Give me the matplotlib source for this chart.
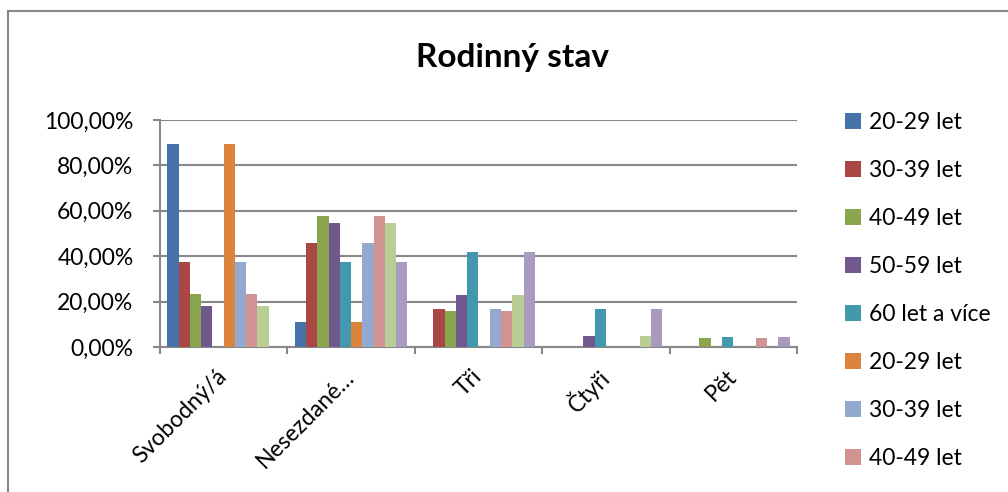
import matplotlib.pyplot as plt
import numpy as np
from matplotlib.lines import Line2D

plt.rcParams['font.family'] = ['Lato', 'DejaVu Sans']

categories = ['Svobodný/á', 'Nesezdané…', 'Tři', 'Čtyři', 'Pět']
series_labels = ['20-29 let', '30-39 let', '40-49 let', '50-59 let', '60 let a více',
                 '20-29 let', '30-39 let', '40-49 let', '50-59 let', '60 let a více']

# values in percent
s20 = [89.3, 10.9, 0.0, 0.0, 0.0]
s30 = [37.6, 45.9, 16.9, 0.0, 0.0]
s40 = [23.2, 57.8, 15.7, 0.0, 4.0]
s50 = [18.2, 54.6, 22.9, 4.7, 0.0]
s60 = [0.0, 37.6, 41.8, 16.9, 4.3]
s20b = [89.3, 10.9, 0.0, 0.0, 0.0]
s30b = [37.6, 45.9, 16.9, 0.0, 0.0]
s40b = [23.2, 57.8, 15.7, 0.0, 4.0]
s50b = [18.2, 54.6, 22.9, 4.7, 0.0]
s60b = [0.0, 37.6, 41.8, 16.9, 4.3]
all_series = [s20, s30, s40, s50, s60, s20b, s30b, s40b, s50b, s60b]

colors = ['#4572A7', '#AA4643', '#89A54E', '#71588F', '#4198AF',
          '#DB843D', '#93A9CF', '#D19392', '#B9CD96', '#A99BBD']

# the legend in the picture is cut off after the 8th entry
n_legend = 8

fig = plt.figure(figsize=(10.08, 4.92), dpi=100)
ax = fig.add_axes([160 / 1008, 145 / 492, 637 / 1008, 227 / 492])

x = np.arange(len(categories))
bw = 0.0885
start = -0.4427
handles = []
for i, (vals, c) in enumerate(zip(all_series, colors)):
    b = ax.bar(x + start + (i + 0.5) * bw, np.array(vals) / 100, width=bw,
               color=c, linewidth=0, zorder=3, label=series_labels[i])
    handles.append(b)

ax.set_xlim(-0.5, 4.5)
ax.set_ylim(0, 1.0)
ax.set_yticks(np.arange(0, 1.01, 0.2))
ax.set_yticklabels([f'{v:.2f}'.replace('.', ',') + '%' for v in np.arange(0, 101, 20)])
ax.yaxis.grid(True, color='#888888', linewidth=1.5, zorder=0)
ax.set_axisbelow(True)

ax.set_xticks(x)
ax.set_xticklabels(categories, rotation=45, ha='right', va='center',
                   rotation_mode='anchor')
ax.set_xticks(np.arange(-0.5, 4.6, 1), minor=True)
ax.tick_params(axis='x', which='major', length=0, pad=19, labelsize=16.5)
ax.tick_params(axis='x', which='minor', length=5, width=1.5, color='#888888')
ax.tick_params(axis='y', length=5, width=1.5, color='#888888', labelsize=16.5, pad=14)

for s in ['top', 'right']:
    ax.spines[s].set_visible(False)
for s in ['left', 'bottom']:
    ax.spines[s].set_color('#888888')
    ax.spines[s].set_linewidth(1.5)

fig.text(0.508, 0.884, 'Rodinný stav', ha='center', va='center',
         fontsize=24, fontweight='bold')

fig.legend(handles=handles[:n_legend], labels=series_labels[:n_legend],
           loc='upper left', bbox_to_anchor=(0.838, 0.772), frameon=False,
           fontsize=16.5, handlelength=0.7, handleheight=0.7, handletextpad=0.35,
           labelspacing=1.18, borderpad=0, borderaxespad=0)

# outer chart border
fig.add_artist(Line2D([8 / 1008, 8 / 1008], [-0.1, 1 - 10.5 / 492],
                      transform=fig.transFigure, color='#888888', linewidth=1.5))
fig.add_artist(Line2D([8 / 1008, 1.1], [1 - 10.5 / 492, 1 - 10.5 / 492],
                      transform=fig.transFigure, color='#888888', linewidth=1.5))

fig.savefig('out.png', dpi=100)
